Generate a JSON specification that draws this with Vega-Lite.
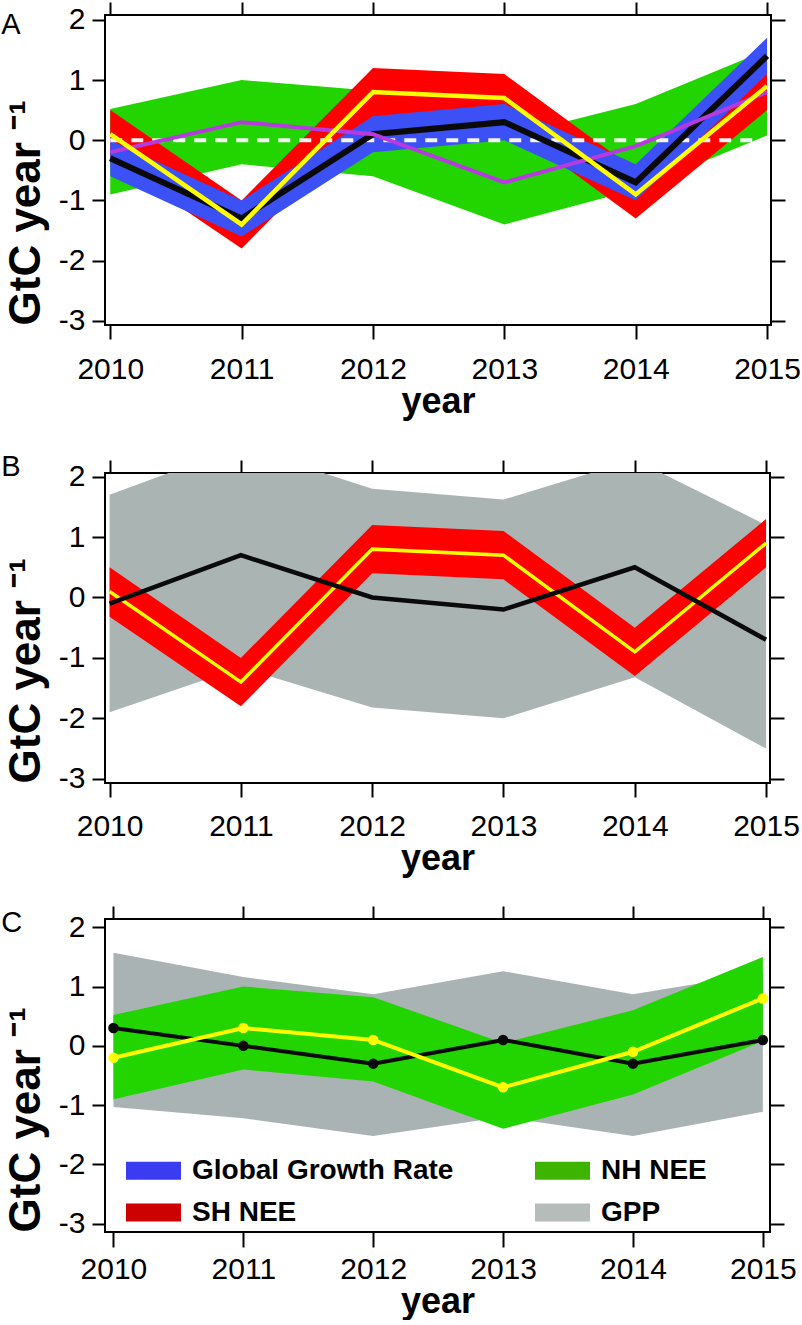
{
  "$schema": "https://vega.github.io/schema/vega-lite/v6.json",
  "background": "white",
  "padding": {"left": 0, "top": 0, "right": 0, "bottom": 0},
  "spacing": 32,
  "datasets": {
    "d": [
      {"year": 2010, "ggr": -0.3, "ggr_lo": -0.6, "ggr_hi": 0.0, "sh": 0.1, "sh_lo": -0.32, "sh_hi": 0.5, "nh": -0.2, "nh_lo": -0.9, "nh_hi": 0.52, "sh_gpp": -0.1, "sh_gpp_lo": -1.9, "sh_gpp_hi": 1.7, "nh_gpp": 0.3, "nh_gpp_lo": -1.03, "nh_gpp_hi": 1.57},
      {"year": 2011, "ggr": -1.3, "ggr_lo": -1.6, "ggr_hi": -1.0, "sh": -1.4, "sh_lo": -1.8, "sh_hi": -1.0, "nh": 0.3, "nh_lo": -0.4, "nh_hi": 1.0, "sh_gpp": 0.7, "sh_gpp_lo": -1.16, "sh_gpp_hi": 2.5, "nh_gpp": 0.0, "nh_gpp_lo": -1.22, "nh_gpp_hi": 1.16},
      {"year": 2012, "ggr": 0.1, "ggr_lo": -0.2, "ggr_hi": 0.4, "sh": 0.8, "sh_lo": 0.4, "sh_hi": 1.2, "nh": 0.1, "nh_lo": -0.6, "nh_hi": 0.82, "sh_gpp": 0.0, "sh_gpp_lo": -1.82, "sh_gpp_hi": 1.8, "nh_gpp": -0.3, "nh_gpp_lo": -1.52, "nh_gpp_hi": 0.87},
      {"year": 2013, "ggr": 0.3, "ggr_lo": 0.0, "ggr_hi": 0.6, "sh": 0.7, "sh_lo": 0.3, "sh_hi": 1.1, "nh": -0.7, "nh_lo": -1.4, "nh_hi": 0.05, "sh_gpp": -0.2, "sh_gpp_lo": -2.0, "sh_gpp_hi": 1.62, "nh_gpp": 0.1, "nh_gpp_lo": -1.2, "nh_gpp_hi": 1.26},
      {"year": 2014, "ggr": -0.7, "ggr_lo": -1.0, "ggr_hi": -0.4, "sh": -0.9, "sh_lo": -1.3, "sh_hi": -0.5, "nh": -0.1, "nh_lo": -0.82, "nh_hi": 0.6, "sh_gpp": 0.5, "sh_gpp_lo": -1.32, "sh_gpp_hi": 2.28, "nh_gpp": -0.3, "nh_gpp_lo": -1.52, "nh_gpp_hi": 0.87},
      {"year": 2015, "ggr": 1.4, "ggr_lo": 1.1, "ggr_hi": 1.7, "sh": 0.9, "sh_lo": 0.5, "sh_hi": 1.3, "nh": 0.8, "nh_lo": 0.08, "nh_hi": 1.5, "sh_gpp": -0.7, "sh_gpp_lo": -2.5, "sh_gpp_hi": 1.2, "nh_gpp": 0.1, "nh_gpp_lo": -1.11, "nh_gpp_hi": 1.23}
    ]
  },
  "data": {"name": "d"},
  "resolve": {"scale": {"color": "independent"}, "legend": {"color": "independent"}},
  "vconcat": [
    {
      "width": 666, "height": 310,
      "title": {"text": "A", "anchor": "start", "frame": "bounds", "offset": -39, "fontSize": 29, "font": "Liberation Sans", "fontWeight": "normal", "color": "#000", "dx": -3},
      "resolve": {"axis": {"x": "independent", "y": "independent"}},
      "layer": [
        {"mark": {"type": "area", "color": "#22d400", "clip": true},
         "encoding": {
           "x": {"field": "year", "type": "quantitative", "scale": {"domain": [2009.96, 2015.03], "nice": false, "zero": false},
                 "axis": {"orient": "bottom", "values": [2010, 2011, 2012, 2013, 2014, 2015], "labelExpr": "'' + datum.value", "tickSize": 14, "labelPadding": 15, "title": "year", "titlePadding": 0}},
           "y": {"field": "nh_lo", "type": "quantitative", "scale": {"domain": [-3.07, 2.08], "nice": false, "zero": false},
                 "axis": {"orient": "left", "values": [-3, -2, -1, 0, 1, 2], "labelExpr": "'' + datum.value", "tickSize": 13, "labelPadding": 7, "title": "GtC year ⁻¹", "titleAnchor": "start", "titlePadding": 10}},
           "y2": {"field": "nh_hi"}}},
        {"mark": {"type": "area", "color": "#ff0000", "clip": true},
         "encoding": {
           "x": {"field": "year", "type": "quantitative", "scale": {"domain": [2009.96, 2015.03], "nice": false, "zero": false},
                 "axis": {"orient": "top", "values": [2010, 2011, 2012, 2013, 2014, 2015], "labels": false, "tickSize": 13, "title": null}},
           "y": {"field": "sh_lo", "type": "quantitative", "scale": {"domain": [-3.07, 2.08], "nice": false, "zero": false},
                 "axis": {"orient": "right", "values": [-3, -2, -1, 0, 1, 2], "labels": false, "tickSize": 14, "title": null}},
           "y2": {"field": "sh_hi"}}},
        {"mark": {"type": "area", "color": "#3b50f5", "clip": true},
         "encoding": {
           "x": {"field": "year", "type": "quantitative", "scale": {"domain": [2009.96, 2015.03], "nice": false, "zero": false}, "axis": null},
           "y": {"field": "ggr_lo", "type": "quantitative", "scale": {"domain": [-3.07, 2.08], "nice": false, "zero": false}, "axis": null},
           "y2": {"field": "ggr_hi"}}},
        {"data": {"values": [{}]},
         "mark": {"type": "rule", "color": "#f4f4f4", "strokeWidth": 4, "strokeDash": [12, 9]},
         "encoding": {
           "x": {"datum": 2010, "type": "quantitative", "scale": {"domain": [2009.96, 2015.03], "nice": false, "zero": false}, "axis": null},
           "x2": {"datum": 2015},
           "y": {"datum": 0, "type": "quantitative", "scale": {"domain": [-3.07, 2.08], "nice": false, "zero": false}, "axis": null}}},
        {"mark": {"type": "line", "color": "#0a0a0a", "strokeWidth": 6},
         "encoding": {
           "x": {"field": "year", "type": "quantitative", "scale": {"domain": [2009.96, 2015.03], "nice": false, "zero": false}, "axis": null},
           "y": {"field": "ggr", "type": "quantitative", "scale": {"domain": [-3.07, 2.08], "nice": false, "zero": false}, "axis": null}}},
        {"mark": {"type": "line", "color": "#b63ae0", "strokeWidth": 4},
         "encoding": {
           "x": {"field": "year", "type": "quantitative", "scale": {"domain": [2009.96, 2015.03], "nice": false, "zero": false}, "axis": null},
           "y": {"field": "nh", "type": "quantitative", "scale": {"domain": [-3.07, 2.08], "nice": false, "zero": false}, "axis": null}}},
        {"mark": {"type": "line", "color": "#ffff00", "strokeWidth": 4.5},
         "encoding": {
           "x": {"field": "year", "type": "quantitative", "scale": {"domain": [2009.96, 2015.03], "nice": false, "zero": false}, "axis": null},
           "y": {"field": "sh", "type": "quantitative", "scale": {"domain": [-3.07, 2.08], "nice": false, "zero": false}, "axis": null}}}
      ]
    },
    {
      "spacing": 27,
      "resolve": {"scale": {"color": "independent"}, "legend": {"color": "independent"}},
      "vconcat": [
        {
          "width": 665, "height": 310,
          "title": {"text": "B", "anchor": "start", "frame": "bounds", "offset": -23, "fontSize": 29, "font": "Liberation Sans", "fontWeight": "normal", "color": "#000", "dx": -3},
          "resolve": {"axis": {"x": "independent", "y": "independent"}},
          "layer": [
            {"mark": {"type": "area", "color": "#a9b4b3", "clip": true},
             "encoding": {
               "x": {"field": "year", "type": "quantitative", "scale": {"domain": [2009.965, 2015.03], "nice": false, "zero": false},
                     "axis": {"orient": "bottom", "values": [2010, 2011, 2012, 2013, 2014, 2015], "labelExpr": "'' + datum.value", "tickSize": 14, "labelPadding": 14, "title": "year", "titlePadding": 0}},
               "y": {"field": "sh_gpp_lo", "type": "quantitative", "scale": {"domain": [-3.07, 2.06], "nice": false, "zero": false},
                     "axis": {"orient": "left", "values": [-3, -2, -1, 0, 1, 2], "labelExpr": "'' + datum.value", "tickSize": 13, "labelPadding": 7, "title": "GtC year ⁻¹", "titleAnchor": "start", "titlePadding": 10}},
               "y2": {"field": "sh_gpp_hi"}}},
            {"mark": {"type": "area", "color": "#ff0000", "clip": true},
             "encoding": {
               "x": {"field": "year", "type": "quantitative", "scale": {"domain": [2009.965, 2015.03], "nice": false, "zero": false},
                     "axis": {"orient": "top", "values": [2010, 2011, 2012, 2013, 2014, 2015], "labels": false, "tickSize": 13, "title": null}},
               "y": {"field": "sh_lo", "type": "quantitative", "scale": {"domain": [-3.07, 2.06], "nice": false, "zero": false},
                     "axis": {"orient": "right", "values": [-3, -2, -1, 0, 1, 2], "labels": false, "tickSize": 14, "title": null}},
               "y2": {"field": "sh_hi"}}},
            {"mark": {"type": "line", "color": "#ffff00", "strokeWidth": 3.5},
             "encoding": {
               "x": {"field": "year", "type": "quantitative", "scale": {"domain": [2009.965, 2015.03], "nice": false, "zero": false}, "axis": null},
               "y": {"field": "sh", "type": "quantitative", "scale": {"domain": [-3.07, 2.06], "nice": false, "zero": false}, "axis": null}}},
            {"mark": {"type": "line", "color": "#0a0a0a", "strokeWidth": 4.5},
             "encoding": {
               "x": {"field": "year", "type": "quantitative", "scale": {"domain": [2009.965, 2015.03], "nice": false, "zero": false}, "axis": null},
               "y": {"field": "sh_gpp", "type": "quantitative", "scale": {"domain": [-3.07, 2.06], "nice": false, "zero": false}, "axis": null}}}
          ]
        },
        {
          "width": 665, "height": 313,
          "title": {"text": "C", "anchor": "start", "frame": "bounds", "offset": -33, "fontSize": 29, "font": "Liberation Sans", "fontWeight": "normal", "color": "#000", "dx": -3},
          "resolve": {"axis": {"x": "independent", "y": "independent"}},
          "layer": [
            {"mark": {"type": "area", "color": "#a9b3b3", "clip": true},
             "encoding": {
               "x": {"field": "year", "type": "quantitative", "scale": {"domain": [2009.935, 2015.055], "nice": false, "zero": false},
                     "axis": {"orient": "bottom", "values": [2010, 2011, 2012, 2013, 2014, 2015], "labelExpr": "'' + datum.value", "tickSize": 15, "labelPadding": 7, "title": "year", "titlePadding": 0}},
               "y": {"field": "nh_gpp_lo", "type": "quantitative", "scale": {"domain": [-3.14, 2.14], "nice": false, "zero": false},
                     "axis": {"orient": "left", "values": [-3, -2, -1, 0, 1, 2], "labelExpr": "'' + datum.value", "tickSize": 13, "labelPadding": 7, "title": "GtC year ⁻¹", "titleAnchor": "start", "titlePadding": 10}},
               "y2": {"field": "nh_gpp_hi"}}},
            {"mark": {"type": "area", "color": "#22d400", "clip": true},
             "encoding": {
               "x": {"field": "year", "type": "quantitative", "scale": {"domain": [2009.935, 2015.055], "nice": false, "zero": false},
                     "axis": {"orient": "top", "values": [2010, 2011, 2012, 2013, 2014, 2015], "labels": false, "tickSize": 13, "title": null}},
               "y": {"field": "nh_lo", "type": "quantitative", "scale": {"domain": [-3.14, 2.14], "nice": false, "zero": false},
                     "axis": {"orient": "right", "values": [-3, -2, -1, 0, 1, 2], "labels": false, "tickSize": 14, "title": null}},
               "y2": {"field": "nh_hi"}}},
            {"mark": {"type": "line", "color": "#0a0a0a", "strokeWidth": 4, "point": {"filled": true, "size": 110, "color": "#0a0a0a"}},
             "encoding": {
               "x": {"field": "year", "type": "quantitative", "scale": {"domain": [2009.935, 2015.055], "nice": false, "zero": false}, "axis": null},
               "y": {"field": "nh_gpp", "type": "quantitative", "scale": {"domain": [-3.14, 2.14], "nice": false, "zero": false}, "axis": null}}},
            {"mark": {"type": "line", "color": "#ffff00", "strokeWidth": 4, "point": {"filled": true, "size": 110, "color": "#ffff00"}},
             "encoding": {
               "x": {"field": "year", "type": "quantitative", "scale": {"domain": [2009.935, 2015.055], "nice": false, "zero": false}, "axis": null},
               "y": {"field": "nh", "type": "quantitative", "scale": {"domain": [-3.14, 2.14], "nice": false, "zero": false}, "axis": null}}},
            {"data": {"values": [{"series": "Global Growth Rate"}, {"series": "SH NEE"}, {"series": "NH NEE"}, {"series": "GPP"}]},
             "mark": {"type": "square", "opacity": 0},
             "encoding": {
               "color": {"field": "series", "type": "nominal",
                 "scale": {"domain": ["Global Growth Rate", "SH NEE", "NH NEE", "GPP"], "range": ["#3a3cf0", "#cc0000", "#3db400", "#b5bcba"]},
                 "legend": {"orient": "none", "legendX": 21, "legendY": 224, "columns": 2, "columnPadding": 81, "rowPadding": 0, "title": null,
                   "symbolType": "M-1,-0.33H1V0.33H-1Z", "symbolSize": 3025, "symbolOpacity": 1, "symbolStrokeWidth": 0,
                   "labelFont": "Liberation Sans", "labelFontSize": 28, "labelFontWeight": "bold", "labelColor": "#000", "labelOffset": 11, "labelLimit": 0, "padding": 0}}}}
          ]
        }
      ]
    }
  ],
  "config": {
    "view": {"stroke": "#000", "strokeWidth": 2},
    "axis": {"labelFont": "Liberation Sans", "labelFontSize": 30, "labelColor": "#000", "tickColor": "#000", "tickWidth": 2, "domain": false, "grid": false,
             "titleFont": "Liberation Sans", "titleFontSize": 36, "titleFontWeight": "bold", "titleColor": "#000"},
    "axisY": {"titleFontSize": 44},
    "title": {"color": "#000"}
  }
}
